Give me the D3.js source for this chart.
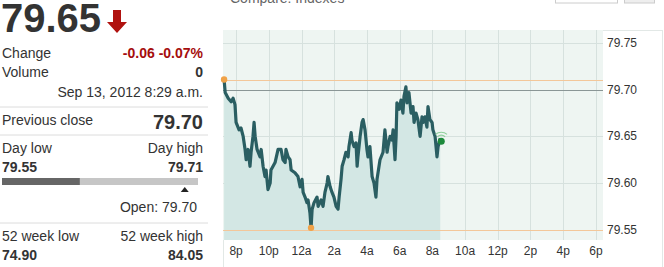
<!DOCTYPE html>
<html lang="en">
<head>
    <meta charset="UTF-8">
    <title>Quote chart</title>
    <script src="https://d3js.org/d3.v7.min.js"></script>
    <style>
        body {
            margin: 0;
            padding: 0;
            overflow: hidden;
            background: #fff;
            font-family: Arial, "Liberation Sans", sans-serif;
        }
        svg text { font-family: Arial, "Liberation Sans", sans-serif; }
    </style>
</head>
<body>
    <svg id="canvas"></svg>

    <script>
        // Quote data
        const lastPrice = "79.65";
        const changeText = "-0.06 -0.07%";
        const volumeText = "0";
        const dateText = "Sep 13, 2012 8:29 a.m.";
        const prevClose = 79.70;
        const dayLow = 79.55;
        const dayHigh = 79.71;
        const openPrice = 79.70;
        const weekLow = "74.90";
        const weekHigh = "84.05";

        // Intraday series: minutes after 8 p.m. (Sep 12) and price
        const minutes = [-44, -40, -29, -18, -11, -4, 0, 11, 18, 26, 33, 37, 44, 51, 55, 62, 66, 70, 77, 88,
            92, 99, 106, 110, 117, 125, 128, 143, 154, 165, 172, 180, 183, 191, 198, 202, 216, 227, 235, 242,
            246, 253, 260, 264, 271, 275, 279, 286, 297, 301, 312, 319, 326, 334, 337, 345, 352, 359, 367, 374,
            378, 385, 389, 396, 403, 411, 414, 422, 425, 433, 440, 444, 447, 455, 462, 466, 473, 480, 484, 491,
            499, 502, 506, 513, 517, 528, 539, 546, 554, 557, 565, 572, 576, 583, 587, 590, 598, 605, 612, 616,
            623, 627, 634, 642, 649, 653, 660, 667, 675, 682, 686, 693, 700, 704, 711, 719, 722, 730, 737, 741, 749];
        const prices = [79.711, 79.697, 79.691, 79.687, 79.691, 79.684, 79.665, 79.657, 79.659, 79.650, 79.636, 79.625, 79.636, 79.618, 79.633, 79.650, 79.665, 79.650, 79.636, 79.628,
            79.636, 79.618, 79.607, 79.614, 79.593, 79.600, 79.614, 79.622, 79.636, 79.636, 79.625, 79.622, 79.636, 79.628, 79.625, 79.614, 79.611, 79.607, 79.596, 79.604,
            79.590, 79.585, 79.579, 79.582, 79.568, 79.552, 79.572, 79.579, 79.585, 79.575, 79.582, 79.575, 79.590, 79.600, 79.607, 79.596, 79.590, 79.585, 79.575, 79.572,
            79.585, 79.604, 79.618, 79.625, 79.633, 79.628, 79.639, 79.654, 79.646, 79.639, 79.643, 79.618, 79.628, 79.650, 79.665, 79.668, 79.657, 79.636, 79.628, 79.639,
            79.607, 79.604, 79.600, 79.585, 79.604, 79.625, 79.633, 79.657, 79.633, 79.639, 79.650, 79.646, 79.657, 79.625, 79.650, 79.686, 79.679, 79.689, 79.675, 79.693,
            79.703, 79.686, 79.697, 79.675, 79.682, 79.665, 79.675, 79.668, 79.650, 79.671, 79.665, 79.671, 79.660, 79.682, 79.668, 79.665, 79.657, 79.650, 79.628, 79.639, 79.648];

        const yTicks = [79.55, 79.60, 79.65, 79.70, 79.75];

        const width = 664, height = 267;
        const svg = d3.select("#canvas").attr("width", width).attr("height", height);

        const base = new Date(2012, 8, 12, 20, 0);
        const toDate = m => new Date(base.getTime() + m * 60000);
        const data = minutes.map((m, i) => ({ t: toDate(m), v: prices[i] }));

        // ---- left quote panel ----
        const panel = svg.append("g");
        const R = 203;

        panel.append("text").attr("x", 1).attr("y", 32)
            .attr("font-size", 40).attr("font-weight", "bold").attr("fill", "#333")
            .text(lastPrice);
        // red down arrow
        panel.append("path")
            .attr("d", "M113,10 h8 v12 h6 l-10,11 l-10,-11 h6 z")
            .attr("fill", "#b0120f");

        function row(y, left, right, opts = {}) {
            if (left) panel.append("text").attr("x", 2).attr("y", y)
                .attr("font-size", opts.ls || 14).attr("font-weight", opts.lb ? "bold" : "normal")
                .attr("fill", "#333").text(left);
            if (right) panel.append("text").attr("x", R).attr("y", y).attr("text-anchor", "end")
                .attr("font-size", opts.rs || 14).attr("font-weight", opts.rb ? "bold" : "normal")
                .attr("fill", opts.rc || "#333").text(right);
        }
        function sep(y) {
            panel.append("line").attr("x1", 0).attr("x2", 208).attr("y1", y).attr("y2", y)
                .attr("stroke", "#dcdcdc");
        }

        row(58, "Change", changeText, { rb: true, rc: "#a50d0d" });
        row(77, "Volume", volumeText, { rb: true });
        row(97, null, dateText);
        sep(107);
        row(125, "Previous close", null);
        row(129, null, d3.format(".2f")(prevClose), { rb: true, rs: 20 });
        sep(135);
        row(153, "Day low", "Day high");
        row(172, d3.format(".2f")(dayLow), d3.format(".2f")(dayHigh), { lb: true, rb: true });

        // day range bar
        const rangeX = d3.scaleLinear().domain([dayLow, dayHigh]).range([2, 198]);
        panel.append("rect").attr("x", 2).attr("y", 178).attr("width", 196).attr("height", 7).attr("fill", "#c6c6c6");
        panel.append("rect").attr("x", 2).attr("y", 178).attr("width", rangeX(79.6135) - 2).attr("height", 7).attr("fill", "#666");
        const ox = rangeX(openPrice) - 1;
        panel.append("path").attr("d", `M${ox - 4},192 L${ox},187 L${ox + 4},192 Z`).attr("fill", "#222");
        panel.append("text").attr("x", 197).attr("y", 212).attr("text-anchor", "end")
            .attr("font-size", 14).attr("fill", "#333").text("Open: " + d3.format(".2f")(openPrice));
        sep(223);
        row(241, "52 week low", "52 week high");
        row(260, weekLow, weekHigh, { lb: true, rb: true });

        // ---- header bits ----
        svg.append("text").attr("x", 230).attr("y", 3).attr("font-size", 14).attr("fill", "#666")
            .text("Compare: Indexes");
        svg.append("rect").attr("x", 555.5).attr("y", -5).attr("width", 62).attr("height", 8)
            .attr("fill", "#fff").attr("stroke", "#ccc");
        svg.append("rect").attr("x", 624.5).attr("y", -5).attr("width", 30).attr("height", 8)
            .attr("fill", "#eee").attr("stroke", "#ccc");

        // ---- chart ----
        const plotL = 223, plotR = 603, plotT = 30, plotB = 240;
        const x = d3.scaleTime()
            .domain([toDate(-48), toDate(22 * 60 + 26)])
            .range([plotL, plotR]);
        const y = d3.scaleLinear().domain([79.539, 79.764]).range([plotB, plotT]);

        // outer frame
        svg.append("rect").attr("x", plotL + 0.5).attr("y", plotT + 0.5)
            .attr("width", 662 - plotL).attr("height", 300)
            .attr("fill", "#fff").attr("stroke", "#e2e8e6");
        svg.append("rect").attr("x", plotL).attr("y", plotT).attr("width", plotR - plotL).attr("height", plotB - plotT)
            .attr("fill", "#eef5f2");

        // grid
        const xTicks = x.ticks(d3.timeHour.every(2));
        svg.append("g").selectAll("line").data(xTicks).join("line")
            .attr("x1", d => Math.round(x(d)) + 0.5).attr("x2", d => Math.round(x(d)) + 0.5)
            .attr("y1", plotT).attr("y2", plotB).attr("stroke", "#d6e1de");
        svg.append("g").selectAll("line").data(yTicks).join("line")
            .attr("x1", plotL).attr("x2", plotR)
            .attr("y1", d => Math.round(y(d)) + 0.5).attr("y2", d => Math.round(y(d)) + 0.5)
            .attr("stroke", "#d6e1de");

        // area + line
        svg.append("path").datum(data)
            .attr("d", d3.area().x(d => x(d.t)).y0(plotB).y1(d => y(d.v)))
            .attr("fill", "#d3e7e4");

        // high / low reference lines
        [dayHigh, dayLow].forEach(v => {
            svg.append("line").attr("x1", plotL).attr("x2", plotR)
                .attr("y1", Math.round(y(v)) + 0.5).attr("y2", Math.round(y(v)) + 0.5)
                .attr("stroke", "#f3c79a");
        });
        svg.append("line").attr("x1", plotL).attr("x2", plotR)
            .attr("y1", Math.round(y(prevClose)) + 0.5).attr("y2", Math.round(y(prevClose)) + 0.5)
            .attr("stroke", "#8a9696");

        svg.append("path").datum(data)
            .attr("d", d3.line().x(d => x(d.t)).y(d => y(d.v)))
            .attr("fill", "none").attr("stroke", "#2a5e62").attr("stroke-width", 3.2)
            .attr("stroke-linejoin", "round");

        // markers
        const hi = data[d3.maxIndex(data, d => d.v)];
        const lo = data[d3.minIndex(data, d => d.v)];
        [hi, lo].forEach(d => {
            svg.append("circle").attr("cx", x(d.t)).attr("cy", y(d.v)).attr("r", 3.2).attr("fill", "#f0a248");
        });
        const last = data[data.length - 1];
        const lx = x(last.t) + 1, ly = y(last.v) + 3;
        svg.append("circle").attr("cx", lx).attr("cy", ly).attr("r", 3.5).attr("fill", "#1d8a3c");
        [6, 9].forEach(r => {
            svg.append("path")
                .attr("d", d3.arc().innerRadius(r - 0.6).outerRadius(r + 0.6).startAngle(-0.7).endAngle(0.7)())
                .attr("transform", `translate(${lx},${ly})`)
                .attr("fill", "#8fcf9c");
        });

        // axis labels
        const fmtHour = d => { const h = d.getHours(); return (h % 12 || 12) + (h < 12 ? "a" : "p"); };
        svg.append("g").selectAll("text").data(xTicks).join("text")
            .attr("x", d => x(d)).attr("y", 255).attr("text-anchor", "middle")
            .attr("font-size", 12).attr("fill", "#333").text(fmtHour);
        svg.append("g").selectAll("text").data(yTicks).join("text")
            .attr("x", 607).attr("y", d => y(d) + 4)
            .attr("font-size", 12).attr("fill", "#333").text(d3.format(".2f"));
    </script>
</body>
</html>
